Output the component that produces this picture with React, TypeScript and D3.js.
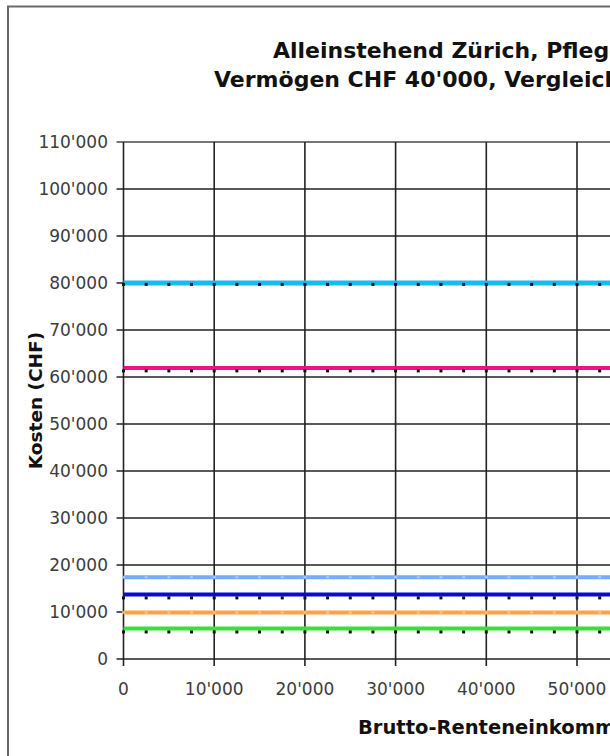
import * as d3 from "d3";

// Einkommen (x) und Kosten (y) – alle Linien sind flach
const incomes = [
  0, 2500, 5000, 7500, 10000, 12500, 15000, 17500, 20000, 22500, 25000, 27500,
  30000, 32500, 35000, 37500, 40000, 42500, 45000, 47500, 50000, 52500, 55000,
  57500, 60000,
];

const cyanValues = [
  80000, 80000, 80000, 80000, 80000, 80000, 80000, 80000, 80000, 80000, 80000,
  80000, 80000, 80000, 80000, 80000, 80000, 80000, 80000, 80000, 80000, 80000,
  80000, 80000, 80000,
];
const magentaValues = [
  61900, 61900, 61900, 61900, 61900, 61900, 61900, 61900, 61900, 61900, 61900,
  61900, 61900, 61900, 61900, 61900, 61900, 61900, 61900, 61900, 61900, 61900,
  61900, 61900, 61900,
];
const lightBlueValues = [
  17400, 17400, 17400, 17400, 17400, 17400, 17400, 17400, 17400, 17400, 17400,
  17400, 17400, 17400, 17400, 17400, 17400, 17400, 17400, 17400, 17400, 17400,
  17400, 17400, 17400,
];
const darkBlueValues = [
  13700, 13700, 13700, 13700, 13700, 13700, 13700, 13700, 13700, 13700, 13700,
  13700, 13700, 13700, 13700, 13700, 13700, 13700, 13700, 13700, 13700, 13700,
  13700, 13700, 13700,
];
const orangeValues = [
  9900, 9900, 9900, 9900, 9900, 9900, 9900, 9900, 9900, 9900, 9900, 9900, 9900,
  9900, 9900, 9900, 9900, 9900, 9900, 9900, 9900, 9900, 9900, 9900, 9900,
];
const greenValues = [
  6500, 6500, 6500, 6500, 6500, 6500, 6500, 6500, 6500, 6500, 6500, 6500, 6500,
  6500, 6500, 6500, 6500, 6500, 6500, 6500, 6500, 6500, 6500, 6500, 6500,
];

// Vergleichsreihen (schwarze Punkte)
const cmpHighValues = [
  79700, 79700, 79700, 79700, 79700, 79700, 79700, 79700, 79700, 79700, 79700,
  79700, 79700, 79700, 79700, 79700, 79700, 79700, 79700, 79700, 79700, 79700,
  79700, 79700, 79700,
];
const cmpMidValues = [
  61300, 61300, 61300, 61300, 61300, 61300, 61300, 61300, 61300, 61300, 61300,
  61300, 61300, 61300, 61300, 61300, 61300, 61300, 61300, 61300, 61300, 61300,
  61300, 61300, 61300,
];
const cmpLowValues = [
  13000, 13000, 13000, 13000, 13000, 13000, 13000, 13000, 13000, 13000, 13000,
  13000, 13000, 13000, 13000, 13000, 13000, 13000, 13000, 13000, 13000, 13000,
  13000, 13000, 13000,
];
const cmpMinValues = [
  5750, 5750, 5750, 5750, 5750, 5750, 5750, 5750, 5750, 5750, 5750, 5750, 5750,
  5750, 5750, 5750, 5750, 5750, 5750, 5750, 5750, 5750, 5750, 5750, 5750,
];

const yTickValues = [
  0, 10000, 20000, 30000, 40000, 50000, 60000, 70000, 80000, 90000, 100000,
  110000,
];
const xTickValues = [0, 10000, 20000, 30000, 40000, 50000, 60000];

const titleLine1 = "Alleinstehend Zürich, Pflegeheim";
const titleLine2 = "Vermögen CHF 40'000, Vergleich";
const yTitle = "Kosten (CHF)";
const xTitle = "Brutto-Renteneinkommen (CHF)";

const colored = [
  { values: cyanValues, color: "#18bbee", width: 5, marker: null },
  { values: magentaValues, color: "#ee1289", width: 4, marker: null },
  { values: lightBlueValues, color: "#72adff", width: 4, marker: "#a9ccff" },
  { values: darkBlueValues, color: "#0a0ad0", width: 4, marker: null },
  { values: orangeValues, color: "#ffa247", width: 4, marker: "#ffc58c" },
  { values: greenValues, color: "#3fdc3f", width: 4, marker: null },
];
const compare = [cmpHighValues, cmpMidValues, cmpLowValues, cmpMinValues];

const fmt = (v: number) =>
  v === 0 ? "0" : d3.format(",")(v).replace(/,/g, "'");

export default function App() {
  const width = 610;
  const height = 756;

  const x = d3.scaleLinear().domain([0, 60000]).range([123.5, 667.7]);
  const y = d3.scaleLinear().domain([0, 110000]).range([659, 142]);
  const plotRight = x(60000) + 60;

  const line = d3
    .line<number>()
    .x((_, i) => x(incomes[i]))
    .y((d) => y(d));

  const font = "'DejaVu Sans', sans-serif";

  return (
    <svg
      width={width}
      height={height}
      style={{ position: "absolute", left: 0, top: 0, background: "#fff" }}
    >
      {/* Rahmen */}
      <rect
        x={8}
        y={6.5}
        width={width + 100}
        height={height + 100}
        fill="#fff"
        stroke="#6a6a6a"
        strokeWidth={2}
      />

      {/* Titel */}
      <g fontFamily={font} fontWeight="bold" fontSize={22} fill="#111">
        <text x={273} y={58}>
          {titleLine1}
        </text>
        <text x={214} y={87}>
          {titleLine2}
        </text>
      </g>

      {/* Gitter horizontal */}
      {yTickValues.map((t) => (
        <line
          key={"h" + t}
          x1={x(0) - 7}
          x2={plotRight}
          y1={y(t)}
          y2={y(t)}
          stroke={t === 110000 ? "#777" : "#222"}
          strokeWidth={t === 110000 ? 2 : 1.6}
        />
      ))}
      {/* Gitter vertikal */}
      {xTickValues.map((t) => (
        <line
          key={"v" + t}
          x1={x(t)}
          x2={x(t)}
          y1={y(110000)}
          y2={y(0) + 7}
          stroke="#222"
          strokeWidth={1.6}
        />
      ))}

      {/* Farbige Reihen */}
      {colored.map((s, k) => (
        <g key={"s" + k}>
          <path
            d={line(s.values) || ""}
            fill="none"
            stroke={s.color}
            strokeWidth={s.width}
          />
          {s.marker &&
            s.values.map((v, i) => (
              <rect
                key={i}
                x={x(incomes[i]) - 1.5}
                y={y(v) - 1}
                width={3}
                height={2}
                fill={s.marker!}
              />
            ))}
        </g>
      ))}

      {/* Vergleich: schwarze Punkte */}
      {compare.map((vals, k) => (
        <g key={"c" + k}>
          {vals.map((v, i) => (
            <rect
              key={i}
              x={x(incomes[i]) - 1.5}
              y={y(v) - 1.5}
              width={3}
              height={3}
              fill="#111"
            />
          ))}
        </g>
      ))}

      {/* Achsenbeschriftungen */}
      <g fontFamily={font} fontSize={17} fill="#3c3c3c">
        {yTickValues.map((t) => (
          <text key={"yl" + t} x={108} y={y(t) + 6} textAnchor="end">
            {fmt(t)}
          </text>
        ))}
        {xTickValues.map((t) => (
          <text key={"xl" + t} x={x(t)} y={695} textAnchor="middle">
            {fmt(t)}
          </text>
        ))}
      </g>

      <g fontFamily={font} fontWeight="bold" fill="#111">
        <text
          fontSize={18.5}
          transform={`translate(42, ${(y(0) + y(110000)) / 2}) rotate(-90)`}
          textAnchor="middle"
        >
          {yTitle}
        </text>
        <text x={358} y={734} fontSize={19.5}>
          {xTitle}
        </text>
      </g>
    </svg>
  );
}
